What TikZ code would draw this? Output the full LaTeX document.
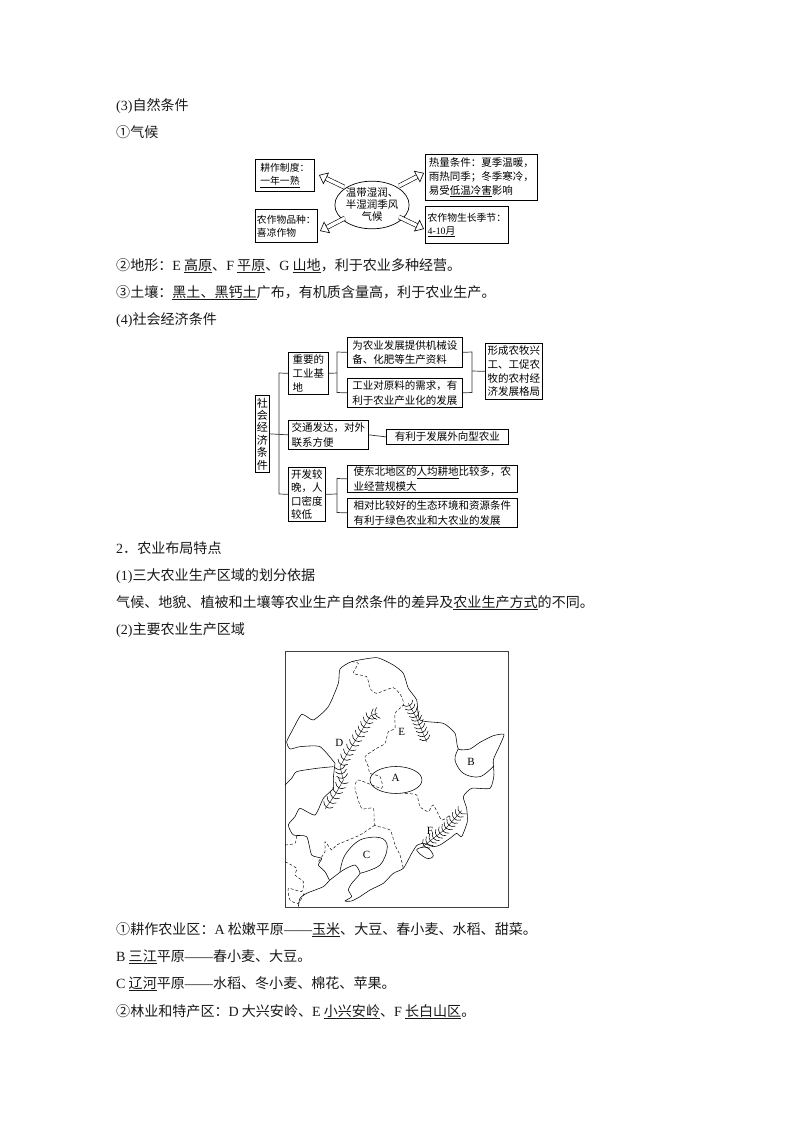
\documentclass[tikz,border=0pt]{standalone}
\usepackage{fontspec}
\setmainfont{Noto Sans CJK SC}
\newfontfamily\latf{Liberation Serif}
\newcommand{\lat}[1]{{\latf #1}}
\newcommand{\ul}[1]{\underline{#1}}
\usetikzlibrary{arrows.meta,shapes.geometric}
\tikzset{
  x=1pt,y=-1pt,
  body/.style={anchor=base west,inner sep=0pt,font=\fontsize{14.05}{14}\selectfont,text=black!90},
  bx/.style={draw=black,line width=.7pt,anchor=north west,inner sep=0pt,align=left,font=\fontsize{10.5}{14.5}\selectfont},
  smallbx/.style={bx,font=\fontsize{9.8}{13}\selectfont},
  wire/.style={draw=black!80,line width=.7pt},
  hollow/.style={double,double distance=3.4pt,line width=.6pt,-{Triangle[open,fill=white,length=8pt,width=13pt,line width=.6pt]}},
  mp/.style={draw=black,line width=.55pt,line join=round},
  dsh/.style={draw=black,line width=.45pt,densely dashed},
  lbl/.style={inner sep=0pt,font=\latf\fontsize{11}{11}\selectfont},
  fencearc/.style={draw=black,line width=.55pt},
}
% one straight stretch of a mountain range: spine plus bows across it
\newcommand{\fseg}[5]{%
  \pgfmathsetmacro{\fdx}{#3-#1}\pgfmathsetmacro{\fdy}{#4-#2}%
  \pgfmathsetmacro{\flen}{sqrt(\fdx*\fdx+\fdy*\fdy)}%
  \pgfmathsetmacro{\fux}{\fdx/\flen}\pgfmathsetmacro{\fuy}{\fdy/\flen}%
  \draw[fencearc,line width=.35pt] (#1,#2) -- (#3,#4);%
  \foreach \fk in {1,...,#5}{%
    \pgfmathsetmacro{\fpx}{#1+\fdx*(\fk-.5)/#5}\pgfmathsetmacro{\fpy}{#2+\fdy*(\fk-.5)/#5}%
    \draw[fencearc] ({\fpx-9*\fux-17*\fuy},{\fpy-9*\fuy+17*\fux}) .. controls ({\fpx+5*\fux-8*\fuy},{\fpy+5*\fuy+8*\fux}) and ({\fpx+5*\fux+8*\fuy},{\fpy+5*\fuy-8*\fux}) .. ({\fpx-9*\fux+17*\fuy},{\fpy-9*\fuy-17*\fux});%
  }}
\begin{document}
\begin{tikzpicture}
\useasboundingbox (0,0) rectangle (794,1123);
\fill[white] (0,0) rectangle (794,1123);
% body text
\node[body] (t1) at (116,111) {\lat{(3)}自然条件};
\node[body] (t2) at (116,138) {①气候};
\node[body] (t3) at (116,270) {②地形：\lat{E} \ul{高原}、\lat{F} \ul{平原}、\lat{G} \ul{山地}，利于农业多种经营。};
\node[body] (t4) at (116,297) {③土壤：\ul{黑土、黑钙土}广布，有机质含量高，利于农业生产。};
\node[body] (t5) at (116,324) {\lat{(4)}社会经济条件};
\node[body] (t6) at (116,553) {\lat{2}．农业布局特点};
\node[body] (t7) at (116,580) {\lat{(1)}三大农业生产区域的划分依据};
\node[body] (t8) at (116,607) {气候、地貌、植被和土壤等农业生产自然条件的差异及\ul{农业生产方式}的不同。};
\node[body] (t9) at (116,634) {\lat{(2)}主要农业生产区域};
\node[body] (t10) at (116,934) {①耕作农业区：\lat{A} 松嫩平原\lat{——}\ul{玉米}、大豆、春小麦、水稻、甜菜。};
\node[body] (t11) at (116,961) {\lat{B} \ul{三江}平原\lat{——}春小麦、大豆。};
\node[body] (t12) at (116,988) {\lat{C} \ul{辽河}平原\lat{——}水稻、冬小麦、棉花、苹果。};
\node[body] (t13) at (116,1016) {②林业和特产区：\lat{D} 大兴安岭、\lat{E} \ul{小兴安岭}、\lat{F} \ul{长白山区}。};
% climate diagram
\node[smallbx,minimum width=59pt,minimum height=32pt] (c1) at (255,159) {耕作制度：\\\ul{一年一熟}};
\node[smallbx,minimum width=62pt,minimum height=33pt] (c2) at (255,209) {农作物品种：\\喜凉作物};
\node[bx,minimum width=112pt,minimum height=46pt,font=\fontsize{10.5}{13.8}\selectfont] (c3) at (425,154) {热量条件：夏季温暖，\\雨热同季；冬季寒冷，\\易受\ul{低温冷害}影响};
\node[smallbx,minimum width=83pt,minimum height=37pt] (c4) at (425,206) {农作物生长季节：\\\ul{\lat{4-10}月}};
\node[draw=black,line width=.7pt,ellipse,minimum width=62pt,minimum height=46pt,inner sep=0pt,align=center,font=\fontsize{10.5}{12}\selectfont] (ce) at (372,205) {温带湿润、\\半湿润季风\\气候};
\coordinate (a1s) at (344,187); \coordinate (a1e) at (319,175);
\coordinate (a2s) at (345,218); \coordinate (a2e) at (320,231);
\coordinate (a3s) at (399,186); \coordinate (a3e) at (424,173);
\coordinate (a4s) at (399,217); \coordinate (a4e) at (424,229);
\draw[hollow] (a1s) -- (a1e);
\draw[hollow] (a2s) -- (a2e);
\draw[hollow] (a3s) -- (a3e);
\draw[hollow] (a4s) -- (a4e);
% economy diagram
\node[bx,minimum width=14pt,minimum height=77pt,align=center,font=\fontsize{11}{12.4}\selectfont] (r) at (255,395) {社\\会\\经\\济\\条\\件};
\node[bx,minimum width=40pt,minimum height=42pt,font=\fontsize{10.5}{14}\selectfont] (a) at (288,352) {重要的\\工业基\\地};
\node[bx,minimum width=115pt,minimum height=30pt] (b1) at (347,337) {为农业发展提供机械设\\备、化肥等生产资料};
\node[bx,minimum width=115pt,minimum height=29pt] (b2) at (347,378) {工业对原料的需求，有\\利于农业产业化的发展};
\node[bx,minimum width=57pt,minimum height=56pt,font=\fontsize{10.5}{13.6}\selectfont] (w) at (485,343) {形成农牧兴\\工、工促农\\牧的农村经\\济发展格局};
\node[bx,minimum width=80pt,minimum height=29pt] (c) at (288,420) {交通发达，对外\\联系方便};
\node[bx,minimum width=122pt,minimum height=15pt] (cc) at (386,429) {有利于发展外向型农业};
\node[bx,minimum width=37pt,minimum height=54pt,font=\fontsize{10.5}{13.4}\selectfont] (d) at (288,467) {开发较\\晚，人\\口密度\\较低};
\node[bx,minimum width=170pt,minimum height=27pt] (d1) at (347,465) {使东北地区的\ul{人均耕地}比较多，农\\业经营规模大};
\node[bx,minimum width=170pt,minimum height=29pt] (d2) at (347,498) {相对比较好的生态环境和资源条件\\有利于绿色农业和大农业的发展};
\draw[wire] (r.east) -- (c.west);
\draw[wire] (a.west) -- (279,373) -- (279,494) -- (d.west);
\draw[wire] (a.east) -- (337,373);
\draw[wire] (b1.west) -- (337,352) -- (337,392.5) -- (b2.west);
\draw[wire] (b1.east) -- (472,352) -- (472,392.5) -- (b2.east);
\draw[wire] (472,371) -- (w.west);
\draw[wire] (c.east) -- (cc.west);
\draw[wire] (d.east) -- (337,494);
\draw[wire] (d1.west) -- (337,478.5) -- (337,512.5) -- (d2.west);
% map
\draw[draw=black!75,line width=1pt] (285,651) rectangle (508,907);
\begin{scope}[shift={(280,645)},x=.3333pt,y=-.3333pt]
% outer border
\draw[mp] plot[smooth,tension=.35] coordinates {(165,355)(120,305)(60,305)(30,312)(20,290)(35,260)(65,208)(100,225)(145,185)(175,115)(180,72)(215,50)(290,38)(340,60)(370,85)(385,130)(410,165)(420,225)(490,235)(525,265)(535,312)(570,312)(600,292)(640,272)(672,268)(660,300)(640,345)(642,390)(630,430)(575,430)(550,455)(560,490)(562,530)(545,575)(530,565)(510,580)(480,600)(460,605)(430,595)(410,602)(395,625)(370,670)(340,685)(310,715)(270,735)(240,755)(215,768)(195,768)(215,755)(205,735)(215,715)(240,685)(225,660)(190,675)(150,705)(130,725)(80,745)(60,760)(55,785)};
\draw[mp] plot[smooth,tension=.35] coordinates {(160,365)(110,370)(50,380)(35,400)(15,420)};
\draw[mp] plot[smooth,tension=.35] coordinates {(165,355)(160,400)(160,430)(130,460)(105,510)(60,490)(45,515)(25,540)(40,570)(80,575)(95,630)(125,640)(115,660)(135,680)(148,705)};
% dashed provincial borders
\draw[dsh] plot[smooth,tension=.35] coordinates {(215,50)(235,55)(220,85)(260,95)(270,130)(290,145)(340,128)(365,155)(370,180)(345,205)(345,250)(325,260)(315,295)(290,310)(255,335)(265,365)(270,385)(300,395)(305,430)(235,405)(225,430)(245,490)(280,490)(285,540)(330,555)(345,600)(360,630)(370,670)};
\draw[dsh] plot[smooth,tension=.35] coordinates {(285,540)(240,570)(170,600)(155,615)(135,590)(135,620)(115,650)};
\draw[dsh] plot[smooth,tension=.35] coordinates {(375,445)(410,450)(420,485)(445,500)(460,480)(485,525)(510,510)};
\draw[dsh] plot[smooth,tension=.35] coordinates {(15,600)(45,595)(50,570)};
\draw[dsh] plot[smooth,tension=.35] coordinates {(15,650)(50,670)(45,690)(70,710)(65,740)(25,730)(30,765)(55,775)(75,740)};
% agricultural regions
\node[draw=black,line width=.55pt,ellipse,minimum width=52pt,minimum height=27pt,inner sep=0pt] (za) at (348,405) {};
\draw[mp] plot[smooth,tension=.6] coordinates {(535,312)(525,345)(550,385)(600,395)(642,362)};
\draw[mp] plot[smooth,tension=.6] coordinates {(180,680)(195,630)(240,585)(300,578)(322,605)(300,660)(240,685)};
\draw[mp] plot[smooth cycle,tension=.6] coordinates {(410,615)(440,607)(460,632)(440,640)};
% mountain ranges
\fseg{292}{205}{272}{212}{2}
\fseg{272}{212}{240}{265}{4}
\fseg{240}{265}{205}{320}{4}
\fseg{205}{320}{180}{365}{3}
\fseg{180}{365}{190}{405}{3}
\fseg{190}{405}{165}{450}{3}
\fseg{165}{450}{135}{492}{3}
\fseg{385}{175}{410}{220}{4}
\fseg{410}{220}{440}{290}{6}
\fseg{545}{497}{495}{553}{6}
\fseg{495}{553}{428}{605}{7}
\node[lbl] (la) at (347,400) {A};
\node[lbl] (lb) at (573,350) {B};
\node[lbl] (lc) at (260,630) {C};
\node[lbl] (ld) at (178,295) {D};
\node[lbl] (le) at (365,262) {E};
\node[lbl] (lf) at (450,558) {F};
\end{scope}
\end{tikzpicture}
\end{document}
